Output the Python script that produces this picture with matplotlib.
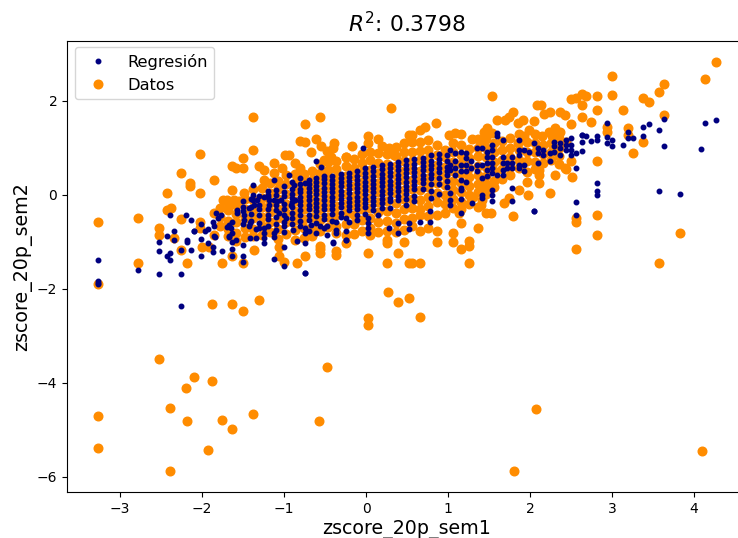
import matplotlib
matplotlib.use("Agg")
import matplotlib.pyplot as plt

# Datos: izquierda y valores atípicos
datos_sueltos_x = [-3.27, -3.27, -3.27, -3.27, -2.78, -2.78, -2.52, -2.52, -2.52, -2.43, -2.43, -2.38, -2.39, -2.39,
                   -2.34, -2.26, -2.26, -2.26, -2.2, -2.18, -2.18, -2.15, -2.15, -2.1, -2.02, -2.02, -2.02, -2.02,
                   -2.0, -1.93, -1.91, -1.88, -1.88, -1.85, -1.85, -1.85, -1.76, -1.76, -1.75, -1.69, -1.63, -1.63,
                   -1.63, -1.63, -1.63, -1.61, -1.58, -1.55, -1.5, -1.5, -1.5, -1.5, -1.49, -1.38, -1.38, -1.38, -1.37,
                   -1.3, -1.3, -1.24, -1.24, -1.12, -1.12, -1.06, -1.06, -1.02, -1.0, -0.99, -0.94, -0.86, -0.84, -0.8,
                   -0.81, -0.75, -0.75, -0.74, -0.67, -0.61, -0.57, -0.565, -0.55, -0.51, -0.48, -0.47, -0.43, -0.4,
                   -0.39, -0.25, -0.17, 0.02, 0.02, 0.02, 0.02, 0.02, 0.15, 0.19, 0.27, 0.28, 0.3, 0.34, 0.39, 0.39,
                   0.52, 0.53, 0.52, 0.66, 0.72, 0.85, 1.54, 1.8, 2.07, 3.0, 3.0, 3.13, 3.19, 3.19, 3.26, 3.38, 3.38,
                   3.45, 3.57, 3.57, 3.64, 3.64, 3.83, 4.1, 4.14, 4.27]
datos_sueltos_y = [-0.57, -1.89, -4.7, -5.39, -0.49, -1.44, -0.71, -0.86, -3.5, 0.04, -0.32, -0.28, -4.54, -5.88,
                   -0.92, -0.51, 0.47, -1.17, -4.1, -4.81, -1.44, 0.26, 0.18, -3.87, 0.87, 0.04, -0.57, -0.71,
                   -1.1, -5.43, -1.1, -2.33, -3.96, 0.32, -0.39, -0.85, -1.44, -4.78, -0.11, -0.11, 0.62, 0.11, -1.31,
                   -2.33, -4.99, -0.11, 0.57, -0.14, 0.78, 0.57, -1.45, -2.48, 0.04, 1.65, 0.96, -4.66, -1.17,
                   0.62, -2.24, 0.52, 0.32, 0.67, 0.46, -1.1, -1.3, 0.57, -1.42, 0.85, 0.85, 0.67, -1.44, 0.57,
                   1.15, 1.5, -1.31, 1.13, 0.92, 1.19, -4.81, 1.65, 1.04, 0.74, -3.66, 0.94, 0.81, 0.99, 1.1, 0.81,
                   1.03, 1.24, 1.1, -1.24, -2.63, -2.77, 1.19, 1.03, -2.07, 1.0, 1.84, 0.85, -1.24, -2.27, -2.2, 1.27,
                   -1.44, -2.6, 1.44, 1.52, 2.09, -5.88, -4.55, 2.53, 2.13, 1.8, 1.42, 1.27, 0.88, 2.05, 1.13, 1.98,
                   2.19, -1.44, 2.36, 1.7, -0.81, -5.45, 2.46, 2.83]

# Datos: parte derecha de la nube
datos_der_x = [1.01, 1.09, 1.13, 1.26, 1.29, 1.3, 1.36, 1.4, 1.42, 1.42, 1.42, 1.44, 1.46, 1.48, 1.5, 1.52, 1.54, 1.6,
               1.68, 1.7, 1.74, 1.74, 1.79, 1.79, 1.85, 1.85, 1.87, 1.92, 1.93, 1.98, 1.99, 2.05, 2.08, 2.11, 2.11,
               2.11, 2.14, 2.15, 2.17, 2.23, 2.24, 2.25, 2.27, 2.31, 2.31, 2.37, 2.37, 2.43, 2.43, 2.44, 2.44, 2.5,
               2.5, 2.51, 2.5, 2.56, 2.56, 2.56, 2.56, 2.63, 2.63, 2.63, 2.68, 2.75, 2.82, 2.82, 2.82, 2.82, 2.82,
               2.94, 2.94]
datos_der_y = [1.27, 1.31, -0.39, -1.44, 1.18, -0.04, 1.18, -0.21, 1.17, 0.11, -0.11, 1.34, -0.39, 1.42, 0.18, -0.39,
               1.31, 1.6, -0.18, 1.59, 1.66, -0.07, 1.75, -0.46, 1.52, 1.1, 0.11, 1.6, 1.24, -0.01, 1.37, 1.57, 1.91,
               0.53, 0.42, 0.25, 1.91, 1.24, 1.72, 1.34, 0.04, 1.75, 1.24, 1.42, 0.42, 1.75, 1.34, 1.7, 0.57, 1.13,
               0.54, 2.03, 1.51, 0.37, 0.71, 2.05, -0.5, -0.57, -1.15, 2.14, 1.9, 1.66, 2.09, 1.54, 2.09, 1.8, 0.72,
               -0.42, -0.86, 1.45, 1.34]

# Datos: columnas de la nube central
datos_col_x = [-1.78, -1.68, -1.58, -1.47, -1.38, -1.27, -1.17, -1.07, -0.97, -0.87, -0.76, -0.66, -0.56, -0.46, -0.36,
               -0.25, -0.15, -0.05, 0.05, 0.15, 0.25, 0.36, 0.46, 0.56, 0.66, 0.76, 0.86, 0.96, 1.06, 1.16, 1.26, 1.36,
               1.46, 1.56, 1.66, 1.76, 1.86, 1.96, 2.06, 2.16, 2.26, 2.36]
datos_col_y = [
    [-0.28, -0.47, -0.66],
    [-0.17, -0.33, -0.55, -0.72, -0.88],
    [-0.21, -0.4, -0.58, -0.81, -0.99],
    [-0.08, -0.3, -0.49, -0.7, -0.9],
    [0.12, -0.12, -0.33, -0.5, -0.72, -0.88],
    [0.15, -0.06, -0.27, -0.48, -0.66, -0.85],
    [0.24, 0.04, -0.18, -0.37, -0.58, -0.79],
    [0.3, 0.12, -0.09, -0.31, -0.5, -0.72, -0.93],
    [0.42, 0.22, 0.02, -0.2, -0.39, -0.58, -0.84],
    [0.45, 0.26, 0.07, -0.13, -0.34, -0.53, -0.74, -0.96],
    [0.44, 0.28, 0.09, -0.11, -0.3, -0.52, -0.7, -0.92],
    [0.5, 0.31, 0.12, -0.08, -0.27, -0.48, -0.69, -0.87],
    [0.66, 0.46, 0.27, 0.06, -0.15, -0.33, -0.53, -0.76, -1.08, -1.15, -1.24],
    [0.7, 0.52, 0.34, 0.14, -0.07, -0.26, -0.47, -0.68],
    [0.72, 0.55, 0.36, 0.16, -0.03, -0.24, -0.44, -0.66, -0.82, -1.2, -1.29],
    [0.8, 0.62, 0.41, 0.22, 0.01, -0.2, -0.39, -0.62, -0.85, -1.03],
    [0.77, 0.58, 0.39, 0.18, -0.02, -0.21, -0.42, -0.63, -0.84],
    [0.86, 0.68, 0.48, 0.28, 0.09, -0.12, -0.31, -0.54, -0.76],
    [0.92, 0.74, 0.53, 0.33, 0.14, -0.07, -0.28, -0.5, -0.7, -0.86],
    [0.88, 0.67, 0.46, 0.26, 0.06, -0.16, -0.37, -0.58, -0.8],
    [0.86, 0.66, 0.47, 0.27, 0.07, -0.13, -0.34, -0.56, -0.78, -0.96, -1.03, -1.44],
    [1.02, 0.82, 0.62, 0.42, 0.22, 0.03, -0.18, -0.38, -0.6, -0.8],
    [1.1, 0.91, 0.71, 0.5, 0.31, 0.1, -0.1, -0.31, -0.52, -0.74, -1.01],
    [1.28, 1.12, 0.92, 0.72, 0.52, 0.32, 0.12, -0.08, -0.28, -0.5, -0.66, -1.44],
    [1.37, 1.13, 0.93, 0.73, 0.51, 0.31, 0.11, -0.11, -0.3, -0.42, -0.78, -1.44],
    [1.16, 0.96, 0.76, 0.56, 0.36, 0.16, -0.04, -0.24, -0.45, -0.71],
    [1.05, 0.85, 0.64, 0.44, 0.24, 0.04, -0.16, -0.42, -0.78, -1.01],
    [0.96, 0.8, 0.6, 0.41, 0.2, 0.0, -0.2, -0.38],
    [1.1, 0.9, 0.7, 0.5, 0.3, 0.1, -0.1, -0.28, -0.81, -1.01],
    [1.3, 1.05, 0.85, 0.65, 0.45, 0.25, 0.05, -0.15, -0.3, -0.6, -1.15],
    [0.98, 0.78, 0.58, 0.38, 0.18, 0.0, -0.2, -0.99, -1.08],
    [1.0, 0.82, 0.62, 0.42, 0.22, 0.05, -0.25, -0.71],
    [1.18, 1.0, 0.8, 0.6, 0.4, 0.22, 0.02],
    [1.1, 0.9, 0.7, 0.5, 0.3, 0.17],
    [1.15, 0.95, 0.75, 0.55, 0.34],
    [1.2, 1.0, 0.8, 0.6, 0.42],
    [1.3, 0.95, 0.75, 0.56],
    [1.12, 0.92, 0.72, 0.48, 0.28],
    [1.3, 1.1, 0.9, 0.7, 0.55],
    [1.05, 0.86, 0.68],
    [1.1, 0.92, 0.74],
    [1.2, 1.0, 0.82, 0.66],
]

# Regresión: puntos sueltos
regresion_sueltos_x = [-3.27, -3.27, -3.27, -3.27, -2.78, -2.52, -2.52, -2.52, -2.43, -2.43, -2.39, -2.39, -2.39,
                       -2.34, -2.34, -2.26, -2.26, -2.26, -2.2, -2.18, -2.18, -2.14, -2.14, -2.1, -2.1, -2.01, -2.01,
                       -2.01, -1.96, -1.93, -1.93, -1.87, -1.87, -1.87, -1.85, -1.85, -1.84, -1.83, -1.81, -1.77,
                       -1.76, -1.69, -1.67, -1.67, -1.67, -1.65, -1.63, -1.63, -1.63, -1.63, -1.63, -1.59, -1.57,
                       -1.57, -1.5, -1.5, -1.5, -1.5, -1.49, -1.49, -1.43, -1.43, -1.41, -1.41, -1.38, -1.38, -1.38,
                       -1.37, -1.34, -1.34, -1.33, -1.3, -1.24, -1.24, -1.24, -1.24, -1.24, -1.2, -1.18, -1.18, -1.12,
                       -1.12, -1.12, -1.12, -1.12, -1.08, -1.06, -1.04, -1.0, -1.0, -1.0, -0.98, -0.94, -0.92, -0.89,
                       -0.88, -0.86, -0.84, -0.8, -0.75, -0.75, -0.75, -0.75, -0.75, -0.74, -0.67, -0.61, -0.61, -0.56,
                       -0.55, -0.48, -0.48, -0.4, -0.4, -0.36, -0.36, -0.36, -0.24, -0.24, -0.24, -0.24, -0.11, -0.04,
                       0.02, 0.02, 0.02, 0.02, 0.15, 0.28, 0.39, 0.39, 0.52, 0.52, 0.66, 0.78, 0.78, 1.16, 2.05, 3.57,
                       3.83]
regresion_sueltos_y = [-1.39, -1.84, -1.87, -1.9, -1.59, -1.01, -1.19, -1.69, -0.88, -1.3, -0.42, -1.24, -1.38,
                       -0.76, -0.97, -1.17, -1.68, -2.37, -0.44, -0.96, -1.01, -0.53, -1.17, -0.76, -0.78, -0.62, -0.94,
                       -1.31, -0.76, -0.73, -1.03, -0.57, -1.1, -1.22, -0.66, -0.88, -0.9, -0.39, -0.5, -0.44,
                       -1.2, -0.69, -0.64, -0.9, -0.88, -0.71, -0.57, -0.81, -1.01, -1.15, -1.31, -0.96, -0.32,
                       -0.39, -0.25, -1.06, -1.3, -1.42, -0.42, -0.53, -0.28, -0.67, -0.6, -0.92, 0.21, 0.0, -0.11,
                       -0.21, -0.73, -0.92, -0.11, -0.21, -0.04, -0.71, -0.81, -0.92, -1.03, 0.0, -0.11, -0.21, 0.32,
                       -0.11, -0.81, -0.9, -1.37, -0.14, -0.39, -0.11, -0.67, -1.1, -1.52, -0.5, 0.42, -0.21, -0.74,
                       0.21, -0.11, -0.99, 0.35, 0.25, -0.71, -0.81, -1.03, -1.66, -1.67, -0.64, 0.71, -0.81, -0.67,
                       0.6, -0.67, -0.85, -1.01, -1.03, -0.57, -0.74, -0.81, -0.5, -0.78, -0.97, -0.96, -0.53, 0.99,
                       -0.5, -0.6, -0.71, -0.81, -0.42, -0.71, -0.59, -0.81, -0.6, -0.73, -0.58, -0.35, -0.57, -0.39,
                       -0.35, 0.07, 0.01]

# Regresión: parte derecha
regresion_der_x = [1.03, 1.03, 1.03, 1.03, 1.03, 1.03, 1.09, 1.09, 1.09, 1.09, 1.16, 1.16, 1.16, 1.16, 1.16, 1.16, 1.16,
                   1.22, 1.22, 1.22, 1.22, 1.22, 1.28, 1.28, 1.29, 1.35, 1.35, 1.35, 1.41, 1.41, 1.41, 1.41, 1.41,
                   1.48, 1.48, 1.48, 1.48, 1.48, 1.54, 1.54, 1.54, 1.54, 1.54, 1.54, 1.54, 1.54, 1.54, 1.6, 1.6, 1.6,
                   1.67, 1.67, 1.67, 1.67, 1.67, 1.72, 1.72, 1.78, 1.78, 1.78, 1.78, 1.78, 1.86, 1.86, 1.87, 1.87,
                   1.87, 1.93, 1.93, 1.93, 1.99, 2.05, 2.1, 2.1, 2.1, 2.16, 2.16, 2.24, 2.24, 2.29, 2.29, 2.29, 2.37,
                   2.37, 2.37, 2.44, 2.44, 2.44, 2.5, 2.5, 2.5, 2.5, 2.56, 2.56, 2.56, 2.56, 2.63, 2.64, 2.64, 2.64,
                   2.68, 2.75, 2.82, 2.82, 2.82, 2.82, 2.82, 2.94, 2.94, 2.94, 3.0, 3.0, 3.13, 3.19, 3.19, 3.26, 3.38,
                   3.38, 3.45, 3.57, 3.64, 3.64, 4.08, 4.14, 4.27, 2.05]
regresion_der_y = [0.96, 0.64, 0.53, 0.04, -0.11, -0.21, 0.88, 0.71, 0.57, 0.42, 0.92, 0.64, 0.5, 0.32, 0.14, 0.11, -0.09,
                   0.88, 0.78, 0.64, 0.5, 0.28, 0.71, 0.57, -0.18, 0.99, 0.64, 0.5, 0.99, 0.64, 0.35, 0.0, -0.07,
                   0.92, 0.81, 0.67, 0.53, 0.4, 1.06, 0.96, 0.81, 0.67, 0.57, 0.46, 0.11, 0.0, -0.14, 1.31, 1.24, 0.42,
                   1.17, 0.81, 0.67, 0.53, 0.42, 0.67, 0.57, 0.81, 0.67, 0.57, 0.14, -0.13, 0.64, 0.57, 1.17, 0.96,
                   0.85, 0.96, 0.64, 0.5, 0.92, 1.11, 0.99, 0.88, 0.67, 0.96, 0.85, 0.88, 0.71, 1.13, 1.03, 0.92, 1.1,
                   0.99, 0.85, 1.17, 1.06, 0.96, 1.2, 1.06, 0.96, 0.85, 0.88, 0.57, -0.16, -0.42, 1.27, 1.27, 1.13,
                   0.94, 1.24, 1.15, 1.25, 1.17, 0.25, 0.08, 0.0, 1.52, 1.22, 1.1, 1.17, 1.04, 1.05, 1.34, 1.2, 1.2,
                   1.45, 1.25, 1.51, 1.38, 1.61, 1.03, 0.97, 1.52, 1.59, -0.35]

# Regresión: columnas de la banda central
regresion_col_x = [-1.5, -1.4, -1.3, -1.2, -1.1, -1.0, -0.9, -0.8, -0.7, -0.61, -0.51, -0.41, -0.31, -0.21, -0.11, -0.01,
                   0.09, 0.19, 0.29, 0.39, 0.49, 0.59, 0.69, 0.79, 0.89, 0.99]
regresion_col_y = [
    [-0.13, -0.35, -0.62],
    [-0.08, -0.27, -0.41, -0.55],
    [-0.03, -0.3, -0.42, -0.61, -0.7],
    [0.07, -0.04, -0.3, -0.42, -0.52, -0.66],
    [0.1, -0.01, -0.22, -0.33, -0.48, -0.62, -0.74],
    [0.18, 0.06, -0.02, -0.2, -0.3, -0.44, -0.57, -0.8],
    [0.28, 0.12, 0.02, -0.06, -0.15, -0.27, -0.38, -0.5, -0.63],
    [0.22, 0.13, 0.05, -0.04, -0.13, -0.21, -0.33, -0.43, -0.56, -0.67],
    [0.31, 0.23, 0.14, 0.05, -0.03, -0.12, -0.21, -0.31, -0.42, -0.54, -0.78],
    [0.35, 0.27, 0.18, 0.1, 0.01, -0.08, -0.17, -0.26, -0.35, -0.46, -0.6],
    [0.41, 0.33, 0.24, 0.15, 0.06, -0.03, -0.12, -0.22, -0.31, -0.42, -0.52, -0.7],
    [0.4, 0.32, 0.23, 0.14, 0.05, -0.04, -0.13, -0.21, -0.3, -0.4, -0.55],
    [0.44, 0.35, 0.27, 0.18, 0.09, 0.0, -0.09, -0.18, -0.27, -0.38, -0.48],
    [0.47, 0.38, 0.29, 0.2, 0.12, 0.03, -0.06, -0.15, -0.24, -0.33, -0.58],
    [0.5, 0.41, 0.32, 0.23, 0.14, 0.05, -0.04, -0.13, -0.22, -0.3, -0.44],
    [0.56, 0.46, 0.37, 0.28, 0.19, 0.1, 0.01, -0.08, -0.17, -0.27, -0.4],
    [0.59, 0.5, 0.41, 0.32, 0.23, 0.14, 0.05, -0.04, -0.13, -0.22, -0.33],
    [0.63, 0.54, 0.45, 0.36, 0.27, 0.18, 0.09, 0.0, -0.09, -0.17, -0.28],
    [0.66, 0.57, 0.48, 0.39, 0.3, 0.21, 0.12, 0.03, -0.06, -0.14, -0.28],
    [0.7, 0.61, 0.52, 0.43, 0.34, 0.25, 0.16, 0.07, -0.02, -0.12],
    [0.73, 0.64, 0.55, 0.46, 0.37, 0.28, 0.19, 0.1, 0.01, -0.1, -0.21],
    [0.76, 0.66, 0.57, 0.48, 0.39, 0.3, 0.21, 0.12, -0.02, -0.14],
    [0.79, 0.7, 0.61, 0.52, 0.43, 0.34, 0.25, 0.13],
    [0.84, 0.72, 0.63, 0.54, 0.45, 0.36, 0.22, 0.08, -0.07],
    [0.86, 0.76, 0.67, 0.58, 0.49, 0.36, 0.22, 0.02],
    [0.85, 0.72, 0.6, 0.51, 0.42, 0.3, 0.17],
]


def juntar(sueltos_x, sueltos_y, der_x, der_y, col_x, col_y):
    """Une los puntos sueltos con los de las columnas."""
    xs = list(sueltos_x) + list(der_x)
    ys = list(sueltos_y) + list(der_y)
    for x, col in zip(col_x, col_y):
        xs += [x] * len(col)
        ys += col
    return xs, ys


datos_x, datos_y = juntar(datos_sueltos_x, datos_sueltos_y, datos_der_x, datos_der_y, datos_col_x, datos_col_y)
regresion_x, regresion_y = juntar(regresion_sueltos_x, regresion_sueltos_y, regresion_der_x, regresion_der_y,
                                  regresion_col_x, regresion_col_y)

fig = plt.figure(figsize=(7.38, 5.38), dpi=100)
# El borde derecho de los ejes queda fuera de la imagen, como en el original
ax = fig.add_axes([67 / 738, 1 - 492 / 538, 680 / 738, 451 / 538])

ax.plot(regresion_x, regresion_y, ".", color="navy", ms=6.5, label="Regresión", zorder=3)
ax.plot(datos_x, datos_y, "o", color="darkorange", ms=6.2, label="Datos", zorder=2)

ax.set_xlim(-3.647, 4.647)
ax.set_ylim(-6.32, 3.27)
ax.set_xticks([-3, -2, -1, 0, 1, 2, 3, 4])
ax.set_yticks([-6, -4, -2, 0, 2])
ax.set_xlabel("zscore_20p_sem1", fontsize=13.7, labelpad=3)
ax.set_ylabel("zscore_20p_sem2", fontsize=13.7, labelpad=3)
ax.set_title("$R^2$: 0.3798", fontsize=15.7)
ax.legend(loc="upper left", fontsize=11.7, borderaxespad=0, bbox_to_anchor=(8 / 680, 1 - 6 / 451))

fig.savefig("out.png", dpi=100)
